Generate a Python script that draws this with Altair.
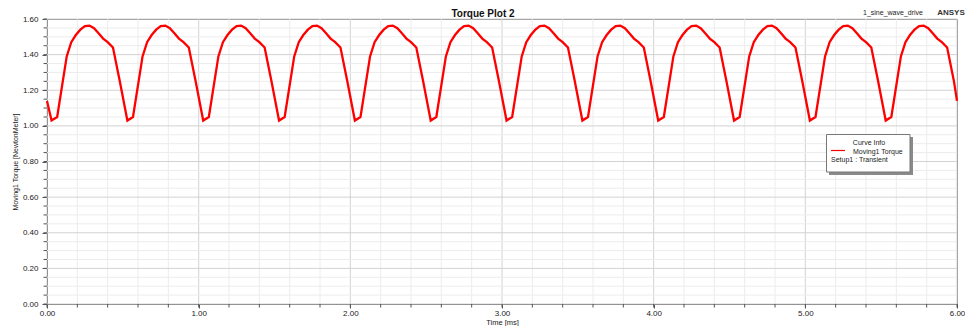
import altair as alt
import pandas as pd

# ---- data ----
time_ms = [
    0.00,
    0.03, 0.067, 0.13, 0.16, 0.19, 0.22, 0.25, 0.28, 0.31, 0.34, 0.37, 0.40, 0.435, 0.48,
    0.53, 0.567, 0.63, 0.66, 0.69, 0.72, 0.75, 0.78, 0.81, 0.84, 0.87, 0.90, 0.935, 0.98,
    1.03, 1.067, 1.13, 1.16, 1.19, 1.22, 1.25, 1.28, 1.31, 1.34, 1.37, 1.40, 1.435, 1.48,
    1.53, 1.567, 1.63, 1.66, 1.69, 1.72, 1.75, 1.78, 1.81, 1.84, 1.87, 1.90, 1.935, 1.98,
    2.03, 2.067, 2.13, 2.16, 2.19, 2.22, 2.25, 2.28, 2.31, 2.34, 2.37, 2.40, 2.435, 2.48,
    2.53, 2.567, 2.63, 2.66, 2.69, 2.72, 2.75, 2.78, 2.81, 2.84, 2.87, 2.90, 2.935, 2.98,
    3.03, 3.067, 3.13, 3.16, 3.19, 3.22, 3.25, 3.28, 3.31, 3.34, 3.37, 3.40, 3.435, 3.48,
    3.53, 3.567, 3.63, 3.66, 3.69, 3.72, 3.75, 3.78, 3.81, 3.84, 3.87, 3.90, 3.935, 3.98,
    4.03, 4.067, 4.13, 4.16, 4.19, 4.22, 4.25, 4.28, 4.31, 4.34, 4.37, 4.40, 4.435, 4.48,
    4.53, 4.567, 4.63, 4.66, 4.69, 4.72, 4.75, 4.78, 4.81, 4.84, 4.87, 4.90, 4.935, 4.98,
    5.03, 5.067, 5.13, 5.16, 5.19, 5.22, 5.25, 5.28, 5.31, 5.34, 5.37, 5.40, 5.435, 5.48,
    5.53, 5.567, 5.63, 5.66, 5.69, 5.72, 5.75, 5.78, 5.81, 5.84, 5.87, 5.90, 5.935, 5.98,
    6.00,
]
torque_nm = [
    1.14,
    1.03, 1.05, 1.39, 1.47, 1.51, 1.54, 1.560, 1.563, 1.548, 1.52, 1.49, 1.47, 1.44, 1.25,
    1.03, 1.05, 1.39, 1.47, 1.51, 1.54, 1.560, 1.563, 1.548, 1.52, 1.49, 1.47, 1.44, 1.25,
    1.03, 1.05, 1.39, 1.47, 1.51, 1.54, 1.560, 1.563, 1.548, 1.52, 1.49, 1.47, 1.44, 1.25,
    1.03, 1.05, 1.39, 1.47, 1.51, 1.54, 1.560, 1.563, 1.548, 1.52, 1.49, 1.47, 1.44, 1.25,
    1.03, 1.05, 1.39, 1.47, 1.51, 1.54, 1.560, 1.563, 1.548, 1.52, 1.49, 1.47, 1.44, 1.25,
    1.03, 1.05, 1.39, 1.47, 1.51, 1.54, 1.560, 1.563, 1.548, 1.52, 1.49, 1.47, 1.44, 1.25,
    1.03, 1.05, 1.39, 1.47, 1.51, 1.54, 1.560, 1.563, 1.548, 1.52, 1.49, 1.47, 1.44, 1.25,
    1.03, 1.05, 1.39, 1.47, 1.51, 1.54, 1.560, 1.563, 1.548, 1.52, 1.49, 1.47, 1.44, 1.25,
    1.03, 1.05, 1.39, 1.47, 1.51, 1.54, 1.560, 1.563, 1.548, 1.52, 1.49, 1.47, 1.44, 1.25,
    1.03, 1.05, 1.39, 1.47, 1.51, 1.54, 1.560, 1.563, 1.548, 1.52, 1.49, 1.47, 1.44, 1.25,
    1.03, 1.05, 1.39, 1.47, 1.51, 1.54, 1.560, 1.563, 1.548, 1.52, 1.49, 1.47, 1.44, 1.25,
    1.03, 1.05, 1.39, 1.47, 1.51, 1.54, 1.560, 1.563, 1.548, 1.52, 1.49, 1.47, 1.44, 1.25,
    1.14,
]

x_major = [0.0, 1.0, 2.0, 3.0, 4.0, 5.0, 6.0]
y_major = [0.0, 0.2, 0.4, 0.6, 0.8, 1.0, 1.2, 1.4, 1.6]
x_minor = [round(0.2 * i, 2) for i in range(31)]
y_minor = [round(0.05 * i, 2) for i in range(33)]

title_text = "Torque Plot 2"
design_name = "1_sine_wave_drive"
brand = "ANSYS"
x_title = "Time [ms]"
y_title = "Moving1 Torque [NewtonMeter]"
legend_title = "Curve Info"
legend_series = "Moving1 Torque"
legend_setup = "Setup1 : Transient"

W, H = 910, 285
FONT = "Liberation Sans"

xs = alt.Scale(domain=[0, 6], nice=False, zero=False)
ys = alt.Scale(domain=[0, 1.6], nice=False, zero=False)

x_axis = alt.Axis(values=x_major, format=".2f", title=x_title, grid=False,
                  tickSize=4, tickColor="#555", domainColor="#555", labelFlush=False,
                  labelFont=FONT, labelFontSize=8, labelColor="#222", labelPadding=1,
                  titleFont=FONT, titleFontSize=7.5, titleFontWeight="normal",
                  titleColor="#222", titlePadding=1)
y_axis = alt.Axis(values=y_major, format=".2f", title=y_title, grid=False,
                  tickSize=5, tickColor="#555", domainColor="#555",
                  labelFont=FONT, labelFontSize=8, labelColor="#222", labelPadding=4,
                  titleFont=FONT, titleFontSize=7, titleFontWeight="normal",
                  titleColor="#222", titlePadding=4)

df = pd.DataFrame({"t": time_ms, "torque": torque_nm})
gx = pd.DataFrame({"v": x_minor, "major": [abs(v - round(v)) < 1e-9 for v in x_minor]})
gy = pd.DataFrame({"v": y_minor, "major": [abs(v / 0.2 - round(v / 0.2)) < 1e-6 for v in y_minor]})

vgrid = alt.Chart(gx).mark_rule(strokeWidth=1).encode(
    x=alt.X("v:Q", scale=xs, axis=x_axis),
    color=alt.Color("major:N", scale=alt.Scale(domain=[False, True], range=["#ececec", "#d2d2d2"]), legend=None),
)
hgrid = alt.Chart(gy).mark_rule(strokeWidth=1).encode(
    y=alt.Y("v:Q", scale=ys, axis=y_axis),
    color=alt.Color("major:N", scale=alt.Scale(domain=[False, True], range=["#ececec", "#d2d2d2"]), legend=None),
)
y_minor_ticks = alt.Chart(gy).mark_rule(color="#555", strokeWidth=1).encode(
    y=alt.Y("v:Q", scale=ys, axis=y_axis), x=alt.value(-3.5), x2=alt.value(0)
)
x_minor_ticks = alt.Chart(gx).mark_rule(color="#555", strokeWidth=1).encode(
    x=alt.X("v:Q", scale=xs, axis=x_axis), y=alt.value(H), y2=alt.value(H + 3.5)
)

line = alt.Chart(df).mark_line(color="#ff0000", strokeWidth=2.3, interpolate="linear").encode(
    x=alt.X("t:Q", scale=xs, axis=x_axis),
    y=alt.Y("torque:Q", scale=ys, axis=y_axis),
)

one = pd.DataFrame({"k": [0]})


def txt(s, x, y, size=7, weight="normal", align="center", color="#222"):
    return alt.Chart(pd.DataFrame({"s": [s]})).mark_text(
        font=FONT, fontSize=size, fontWeight=weight, align=align, baseline="middle", color=color
    ).encode(text="s:N", x=alt.value(x), y=alt.value(y))


shadow = alt.Chart(one).mark_rect(color="#8a8a8a").encode(
    x=alt.value(782), x2=alt.value(866), y=alt.value(118), y2=alt.value(156)
)
box = alt.Chart(one).mark_rect(fill="white", stroke="#777", strokeWidth=1).encode(
    x=alt.value(779.5), x2=alt.value(863), y=alt.value(115.5), y2=alt.value(153)
)
leg_line = alt.Chart(one).mark_rule(color="#ff0000", strokeWidth=1.2).encode(
    x=alt.value(784), x2=alt.value(798), y=alt.value(131.5)
)

chart = alt.layer(
    vgrid, hgrid, y_minor_ticks, x_minor_ticks, line,
    shadow, box, leg_line,
    txt(legend_title, 822, 124),
    txt(legend_series, 806, 133, align="left"),
    txt(legend_setup, 784, 140.5, align="left"),
    txt(title_text, 436, -5.5, size=10, weight="bold", color="#111"),
    txt(design_name, 846, -6, size=7),
    txt(brand, 904, -6, size=8, weight="bold", color="#333"),
).properties(
    width=W, height=H,
    autosize=alt.AutoSizeParams(type="none"),
    padding={"left": 39, "top": 11, "right": 8, "bottom": 22},
    background="white",
).configure_view(stroke="#7a7a7a", strokeWidth=1)

chart.save("out.html", embed_options={"renderer": "svg", "actions": False})
